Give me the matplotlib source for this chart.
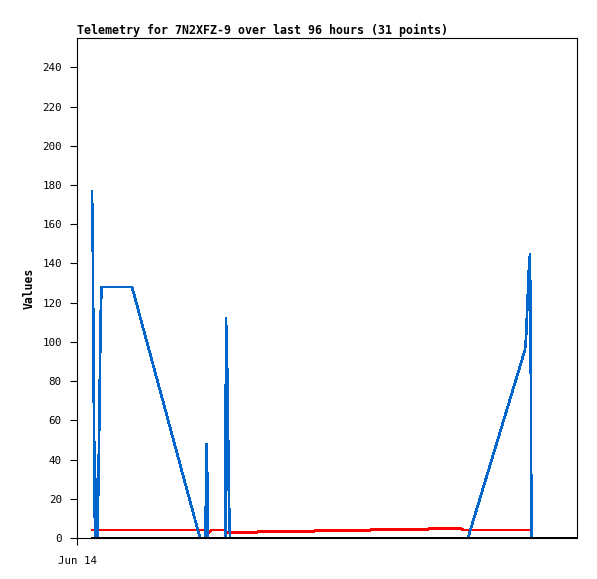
import matplotlib
matplotlib.use("Agg")
import matplotlib.pyplot as plt

# px-per-hour scale used when reading the picture: 0 h = Jun 14 00:00 (left edge)
title = "Telemetry for 7N2XFZ-9 over last 96 hours (31 points)"

blue_hours = [3.28, 3.46, 3.61, 3.76, 3.94, 4.26, 4.48, 4.81, 4.99, 5.16, 5.36,
              12.03, 26.90, 28.10, 28.21, 28.38, 28.52, 28.65, 32.47, 32.58,
              32.80, 33.02, 33.24, 33.46, 85.50, 97.97, 98.19, 98.41, 98.62,
              98.84, 99.06, 99.28, 99.35]
blue_vals = [177, 147, 88, 48, 0, 30, 0, 48, 80, 112, 128,
             128, 0, 0, 24, 48, 24, 0, 0, 112,
             93, 56, 18, 0, 0, 96, 102, 114, 126,
             138, 144.5, 72, 0]

red_hours = [3.28, 28.51, 28.95, 29.39, 32.36, 32.69, 39.15, 39.59, 51.62,
             52.06, 63.87, 64.31, 76.56, 77.00, 83.98, 84.64, 99.35]
red_vals = [4.1, 4.1, 2.9, 4.1, 4.1, 2.8, 2.8, 3.2, 3.2,
            3.7, 3.7, 4.2, 4.2, 4.7, 4.7, 4.1, 4.1]

base_hours = [3.28, 109.34]
base_vals = [0, 0]

x_range = [0, 109.34]
y_range = [0, 255]
y_ticks = list(range(0, 241, 20))

fig = plt.figure(figsize=(5.97, 5.79), dpi=100)
ax = fig.add_axes([77/597, 1-538/579, 500/597, 500/579])

ax.plot(blue_hours, blue_vals, color="#0066cc", lw=1.2, zorder=3, antialiased=False)
ax.plot(red_hours, red_vals, color="#ff0000", lw=1.2, zorder=2, antialiased=False)
ax.plot(base_hours, base_vals, color="black", lw=1.4, zorder=4, antialiased=False)

ax.set_xlim(x_range)
ax.set_ylim(y_range)
ax.set_yticks(y_ticks)
ax.set_xticks([0])
ax.set_xticklabels(["Jun 14"])

mono = "DejaVu Sans Mono"
for lab in ax.get_xticklabels() + ax.get_yticklabels():
    lab.set_family(mono)
    lab.set_fontsize(7.8)
ax.tick_params(axis="both", length=5, width=0.8, direction="out")
ax.tick_params(axis="y", pad=6)
ax.tick_params(axis="x", pad=8)

for s in ax.spines.values():
    s.set_linewidth(0.8)

ax.set_ylabel("Values", family=mono, fontsize=8.3, fontweight="bold", labelpad=5)
ax.set_title(title, loc="left", family=mono, fontsize=8.35, fontweight="bold", pad=3)

fig.savefig("out.png", dpi=100)
